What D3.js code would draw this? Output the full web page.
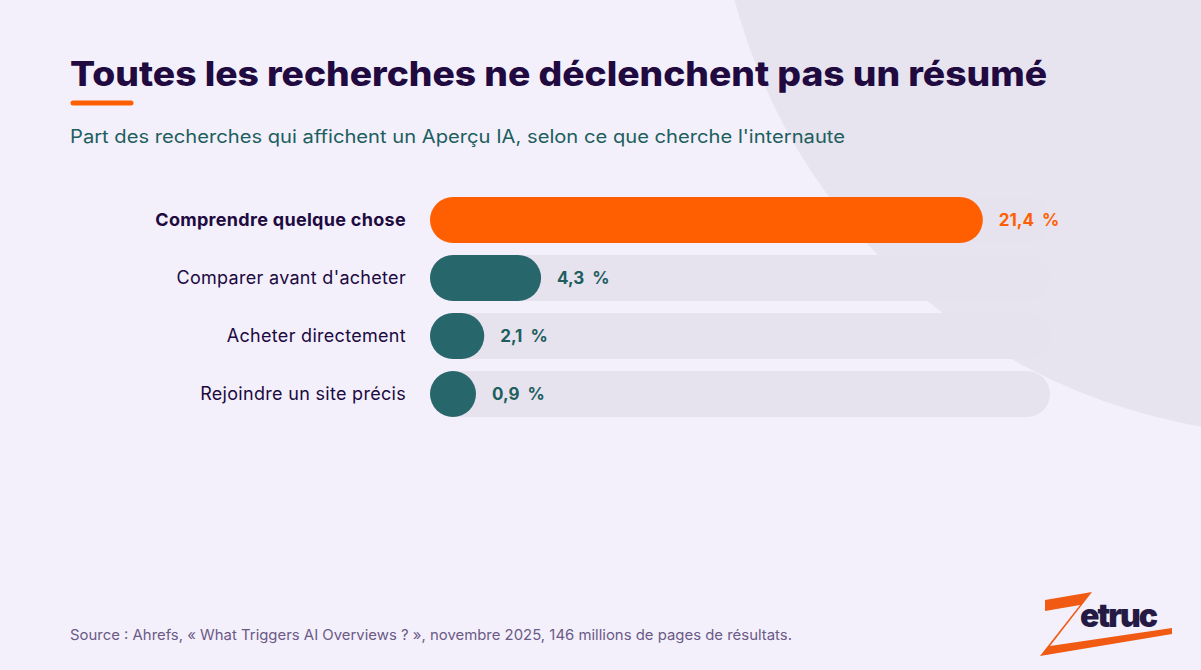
<!DOCTYPE html>
<html><head><meta charset="utf-8">
<script src="https://cdn.jsdelivr.net/npm/d3@7"></script>
<style>body{margin:0;background:#f3f0fb;}svg{display:block;font-family:Inter,"Open Sans",sans-serif;}</style>
</head><body>
<svg width="1201" height="670"></svg>
<script>
var categories = ["Comprendre quelque chose", "Comparer avant d'acheter", "Acheter directement", "Rejoindre un site précis"];
var values = [21.4, 4.3, 2.1, 0.9];
var valueLabels = ["21,4 %", "4,3 %", "2,1 %", "0,9 %"];

var svg = d3.select("svg");
svg.append("rect").attr("width", 1201).attr("height", 670).attr("fill", "#f3f0fb");
svg.append("circle").attr("cx", 1300).attr("cy", -150).attr("r", 585).attr("fill", "#e7e3ef");

svg.append("text").attr("x", 70).attr("y", 86)
    .attr("font-size", 34).attr("font-weight", 800).attr("fill", "#200a40")
    .attr("textLength", 977).attr("lengthAdjust", "spacingAndGlyphs")
    .text("Toutes les recherches ne déclenchent pas un résumé");
svg.append("line").attr("x1", 73).attr("x2", 131).attr("y1", 103).attr("y2", 103)
    .attr("stroke", "#ff5f00").attr("stroke-width", 5).attr("stroke-linecap", "round");
svg.append("text").attr("x", 70).attr("y", 143)
    .attr("font-size", 18).attr("fill", "#1d5e5e")
    .attr("textLength", 775).attr("lengthAdjust", "spacingAndGlyphs")
    .text("Part des recherches qui affichent un Aperçu IA, selon ce que cherche l'internaute");

var x = d3.scaleLinear().domain([0, 24]).range([430, 1050]);
var y = d3.scaleBand().domain(categories).range([197, 417]).paddingInner(12 / 58);
var h = y.bandwidth();

var g = svg.append("g");
g.selectAll(".track").data(categories).join("rect")
    .attr("x", x(0)).attr("y", d => y(d)).attr("width", x(24) - x(0)).attr("height", h)
    .attr("rx", h / 2).attr("fill", "#e6e2ee");
g.selectAll(".bar").data(values).join("rect")
    .attr("x", x(0)).attr("y", (d, i) => y(categories[i]))
    .attr("width", d => Math.max(x(d) - x(0), h)).attr("height", h).attr("rx", h / 2)
    .attr("fill", (d, i) => i === 0 ? "#ff5f00" : "#27666a");
g.selectAll(".cat").data(categories).join("text")
    .attr("x", 406).attr("y", d => y(d) + h / 2).attr("dy", "0.35em")
    .attr("text-anchor", "end").attr("font-size", 18).attr("letter-spacing", 0.3)
    .attr("font-weight", (d, i) => i === 0 ? 700 : 400).attr("fill", "#200a40")
    .text(d => d);
g.selectAll(".val").data(values).join("text")
    .attr("x", d => x(0) + Math.max(x(d) - x(0), h) + 16).attr("y", (d, i) => y(categories[i]) + h / 2).attr("dy", "0.35em")
    .attr("font-size", 17).attr("font-weight", 700)
    .attr("fill", (d, i) => i === 0 ? "#ff5f00" : "#1d5e5e")
    .attr("xml:space", "preserve")
    .text((d, i) => valueLabels[i].replace(" ", "  "));

svg.append("text").attr("x", 70).attr("y", 640).attr("font-size", 14.5).attr("fill", "#6b5a86")
    .attr("textLength", 722).attr("lengthAdjust", "spacingAndGlyphs")
    .text("Source : Ahrefs, « What Triggers AI Overviews ? », novembre 2025, 146 millions de pages de résultats.");

// logo
var logo = svg.append("g");
logo.append("path").attr("d", "M1045,600 L1092,592 L1050,646 L1172,628 L1172,634 L1040,656 L1080,605 L1045,611 Z").attr("fill", "#f05a12");
logo.append("text").attr("x", 1080).attr("y", 627).attr("font-size", 32).attr("font-weight", 900)
    .attr("fill", "#241a44").attr("letter-spacing", -2).text("etruc");
</script>
</body></html>
